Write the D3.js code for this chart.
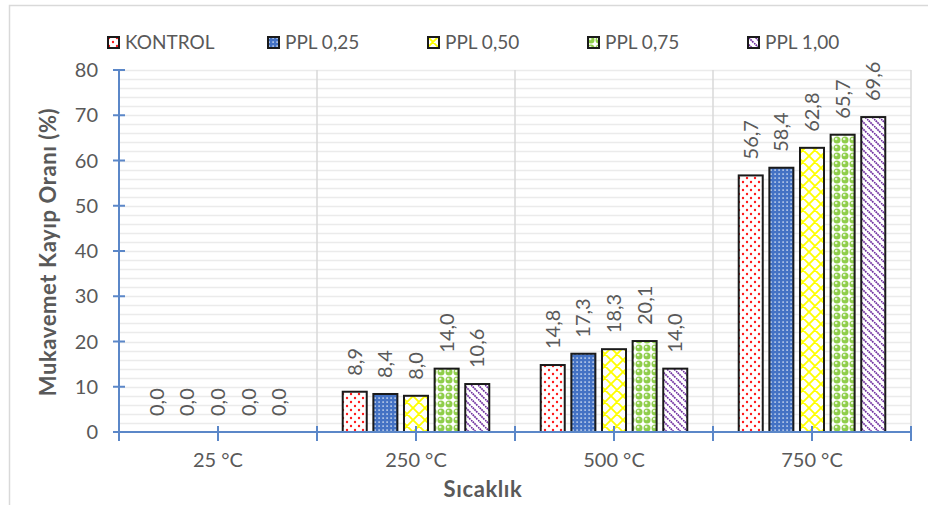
<!DOCTYPE html>
<html>
<head>
<meta charset="utf-8">
<script src="https://cdn.jsdelivr.net/npm/d3@7"></script>
<style>
  body { margin: 0; background: #fff; }
  svg text { font-family: Lato, "Open Sans", sans-serif; fill: #595959; }
</style>
</head>
<body>
<svg id="chart" width="928" height="505"></svg>
<script>
// données du graphique
var categories = ["25 °C", "250 °C", "500 °C", "750 °C"];
var seriesNames = ["KONTROL", "PPL 0,25", "PPL 0,50", "PPL 0,75", "PPL 1,00"];
var kontrol = [0.0, 8.9, 14.8, 56.7];
var ppl025 = [0.0, 8.4, 17.3, 58.4];
var ppl050 = [0.0, 8.0, 18.3, 62.8];
var ppl075 = [0.0, 14.0, 20.1, 65.7];
var ppl100 = [0.0, 10.6, 14.0, 69.6];
var seriesValues = [kontrol, ppl025, ppl050, ppl075, ppl100];
var yTicks = [0, 10, 20, 30, 40, 50, 60, 70, 80];

var svg = d3.select("#chart");
// attention : "top" est réservé par window
var plotLeft = 119, plotRight = 911, plotTop = 70, plotBottom = 432;
var axisColor = "#5b87c8";
var format = function(v) { return d3.format(".1f")(v).replace(".", ","); };

// motifs de remplissage
var defs = svg.append("defs");

var p0 = defs.append("pattern").attr("id", "pat0").attr("patternUnits", "userSpaceOnUse")
    .attr("width", 8).attr("height", 8);
p0.append("rect").attr("width", 8).attr("height", 8).attr("fill", "#fff");
p0.append("circle").attr("cx", 2).attr("cy", 2).attr("r", 1.2).attr("fill", "#ff1a1a");
p0.append("circle").attr("cx", 6).attr("cy", 6).attr("r", 1.2).attr("fill", "#ff1a1a");

var p1 = defs.append("pattern").attr("id", "pat1").attr("patternUnits", "userSpaceOnUse")
    .attr("width", 4).attr("height", 4);
p1.append("rect").attr("width", 4).attr("height", 4).attr("fill", "#4472c4");
p1.append("rect").attr("x", 1.4).attr("y", 1.4).attr("width", 1.4).attr("height", 1.4).attr("fill", "#e3ebf7");

var p2 = defs.append("pattern").attr("id", "pat2").attr("patternUnits", "userSpaceOnUse")
    .attr("width", 12).attr("height", 12);
p2.append("rect").attr("width", 12).attr("height", 12).attr("fill", "#fff");
p2.append("path").attr("d", "M0,0L12,12M12,0L0,12M-1,11L1,13M11,-1L13,1M-1,1L1,-1M11,13L13,11")
    .attr("stroke", "#ffff00").attr("stroke-width", 1.8).attr("fill", "none");

var p3 = defs.append("pattern").attr("id", "pat3").attr("patternUnits", "userSpaceOnUse")
    .attr("width", 8).attr("height", 8);
p3.append("rect").attr("width", 8).attr("height", 8).attr("fill", "#fff");
p3.append("circle").attr("cx", 4).attr("cy", 4).attr("r", 3.5).attr("fill", "#8fce4a");
p3.append("circle").attr("cx", 3.2).attr("cy", 3.0).attr("r", 1.3).attr("fill", "#e8f5da");

var p4 = defs.append("pattern").attr("id", "pat4").attr("patternUnits", "userSpaceOnUse")
    .attr("width", 7).attr("height", 7);
p4.append("rect").attr("width", 7).attr("height", 7).attr("fill", "#fff");
p4.append("path").attr("d", "M0,0L7,7M-3.5,3.5L0,7M3.5,-3.5L7,0")
    .attr("stroke", "#7030a0").attr("stroke-width", 1.7).attr("stroke-dasharray", "1.8,0.6");

// cadre extérieur
svg.append("rect").attr("x", 9.5).attr("y", 5.5).attr("width", 930).attr("height", 510)
    .attr("fill", "none").attr("stroke", "#d9d9d9").attr("stroke-width", 1.5);

var x0 = d3.scaleBand().domain(categories).range([plotLeft, plotRight]);
var x1 = d3.scaleBand().domain(seriesNames).range([0, x0.bandwidth()])
    .paddingInner(0.216).paddingOuter(0.84);
var y = d3.scaleLinear().domain([0, 80]).range([plotBottom, plotTop]);

// grille
svg.append("g").selectAll("line")
  .data(d3.range(2, 81, 2))
  .enter().append("line")
    .attr("x1", plotLeft).attr("x2", plotRight)
    .attr("y1", function(d) { return Math.round(y(d)) + 0.5; })
    .attr("y2", function(d) { return Math.round(y(d)) + 0.5; })
    .attr("stroke", "#ebebeb").attr("stroke-width", 1.5);

svg.append("g").selectAll("line")
  .data(categories)
  .enter().append("line")
    .attr("x1", function(d) { return x0(d) + x0.bandwidth(); })
    .attr("x2", function(d) { return x0(d) + x0.bandwidth(); })
    .attr("y1", plotTop).attr("y2", plotBottom)
    .attr("stroke", "#d9d9d9").attr("stroke-width", 1.5);

// barres
var groups = svg.append("g").selectAll("g")
  .data(categories)
  .enter().append("g")
    .attr("transform", function(d) { return "translate(" + x0(d) + ",0)"; });

var bars = groups.selectAll("g")
  .data(function(c, i) {
    return seriesNames.map(function(s, j) { return { series: s, idx: j, value: seriesValues[j][i] }; });
  })
  .enter().append("g");

bars.filter(function(d) { return d.value > 0; }).append("rect")
    .attr("x", function(d) { return x1(d.series); })
    .attr("y", function(d) { return y(d.value); })
    .attr("width", x1.bandwidth())
    .attr("height", function(d) { return plotBottom - y(d.value); })
    .attr("fill", function(d) { return "url(#pat" + d.idx + ")"; })
    .attr("stroke", "#1a1a1a").attr("stroke-width", 2);

bars.append("text")
    .attr("transform", function(d) {
      return "translate(" + (x1(d.series) + x1.bandwidth() / 2) + "," + (y(d.value) - 16) + ") rotate(-90)";
    })
    .attr("dy", "0.35em")
    .attr("font-size", 20)
    .text(function(d) { return format(d.value); });

// axes
var yAxis = svg.append("g");
yAxis.append("line").attr("x1", plotLeft).attr("x2", plotLeft).attr("y1", plotTop).attr("y2", plotBottom)
    .attr("stroke", axisColor).attr("stroke-width", 2);
yAxis.selectAll(".tick")
  .data(yTicks)
  .enter().append("line")
    .attr("x1", plotLeft - 6).attr("x2", plotLeft + 6)
    .attr("y1", function(d) { return y(d); }).attr("y2", function(d) { return y(d); })
    .attr("stroke", axisColor).attr("stroke-width", 2);
yAxis.selectAll("text")
  .data(yTicks)
  .enter().append("text")
    .attr("x", 98).attr("y", function(d) { return y(d); })
    .attr("dy", "0.35em").attr("text-anchor", "end").attr("font-size", 20)
    .text(function(d) { return d; });

var xAxis = svg.append("g");
xAxis.append("line").attr("x1", plotLeft).attr("x2", plotRight).attr("y1", plotBottom).attr("y2", plotBottom)
    .attr("stroke", axisColor).attr("stroke-width", 2);
var xTickPos = [plotLeft];
categories.forEach(function(c) {
  xTickPos.push(x0(c) + x0.bandwidth() / 2);
  xTickPos.push(x0(c) + x0.bandwidth());
});
xAxis.selectAll(".tick")
  .data(xTickPos)
  .enter().append("line")
    .attr("x1", function(d) { return d; }).attr("x2", function(d) { return d; })
    .attr("y1", plotBottom - 6).attr("y2", plotBottom + 9)
    .attr("stroke", axisColor).attr("stroke-width", 2);
xAxis.selectAll("text")
  .data(categories)
  .enter().append("text")
    .attr("x", function(d) { return x0(d) + x0.bandwidth() / 2; })
    .attr("y", 460).attr("dy", "0.35em")
    .attr("text-anchor", "middle").attr("font-size", 20)
    .text(function(d) { return d; });

// titres des axes
svg.append("text")
    .attr("x", 483).attr("y", 489).attr("dy", "0.35em")
    .attr("text-anchor", "middle").attr("font-size", 22).attr("font-weight", "bold")
    .attr("letter-spacing", 0.6)
    .text("Sıcaklık");
svg.append("text")
    .attr("transform", "translate(48,252) rotate(-90)")
    .attr("dy", "0.35em")
    .attr("text-anchor", "middle").attr("font-size", 22).attr("font-weight", "bold")
    .attr("letter-spacing", 0.6)
    .text("Mukavemet Kayıp Oranı (%)");

// légende
var legend = svg.append("g").selectAll("g")
  .data(seriesNames)
  .enter().append("g")
    .attr("transform", function(d, i) { return "translate(" + (107 + i * 160) + ",36)"; });
legend.append("rect")
    .attr("x", 1).attr("y", 1).attr("width", 11).attr("height", 11)
    .attr("fill", function(d, i) { return "url(#pat" + i + ")"; })
    .attr("stroke", "#1a1a1a").attr("stroke-width", 2);
legend.append("text")
    .attr("x", 18).attr("y", 6.5).attr("dy", "0.35em").attr("font-size", 19)
    .text(function(d) { return d; });
</script>
</body>
</html>
